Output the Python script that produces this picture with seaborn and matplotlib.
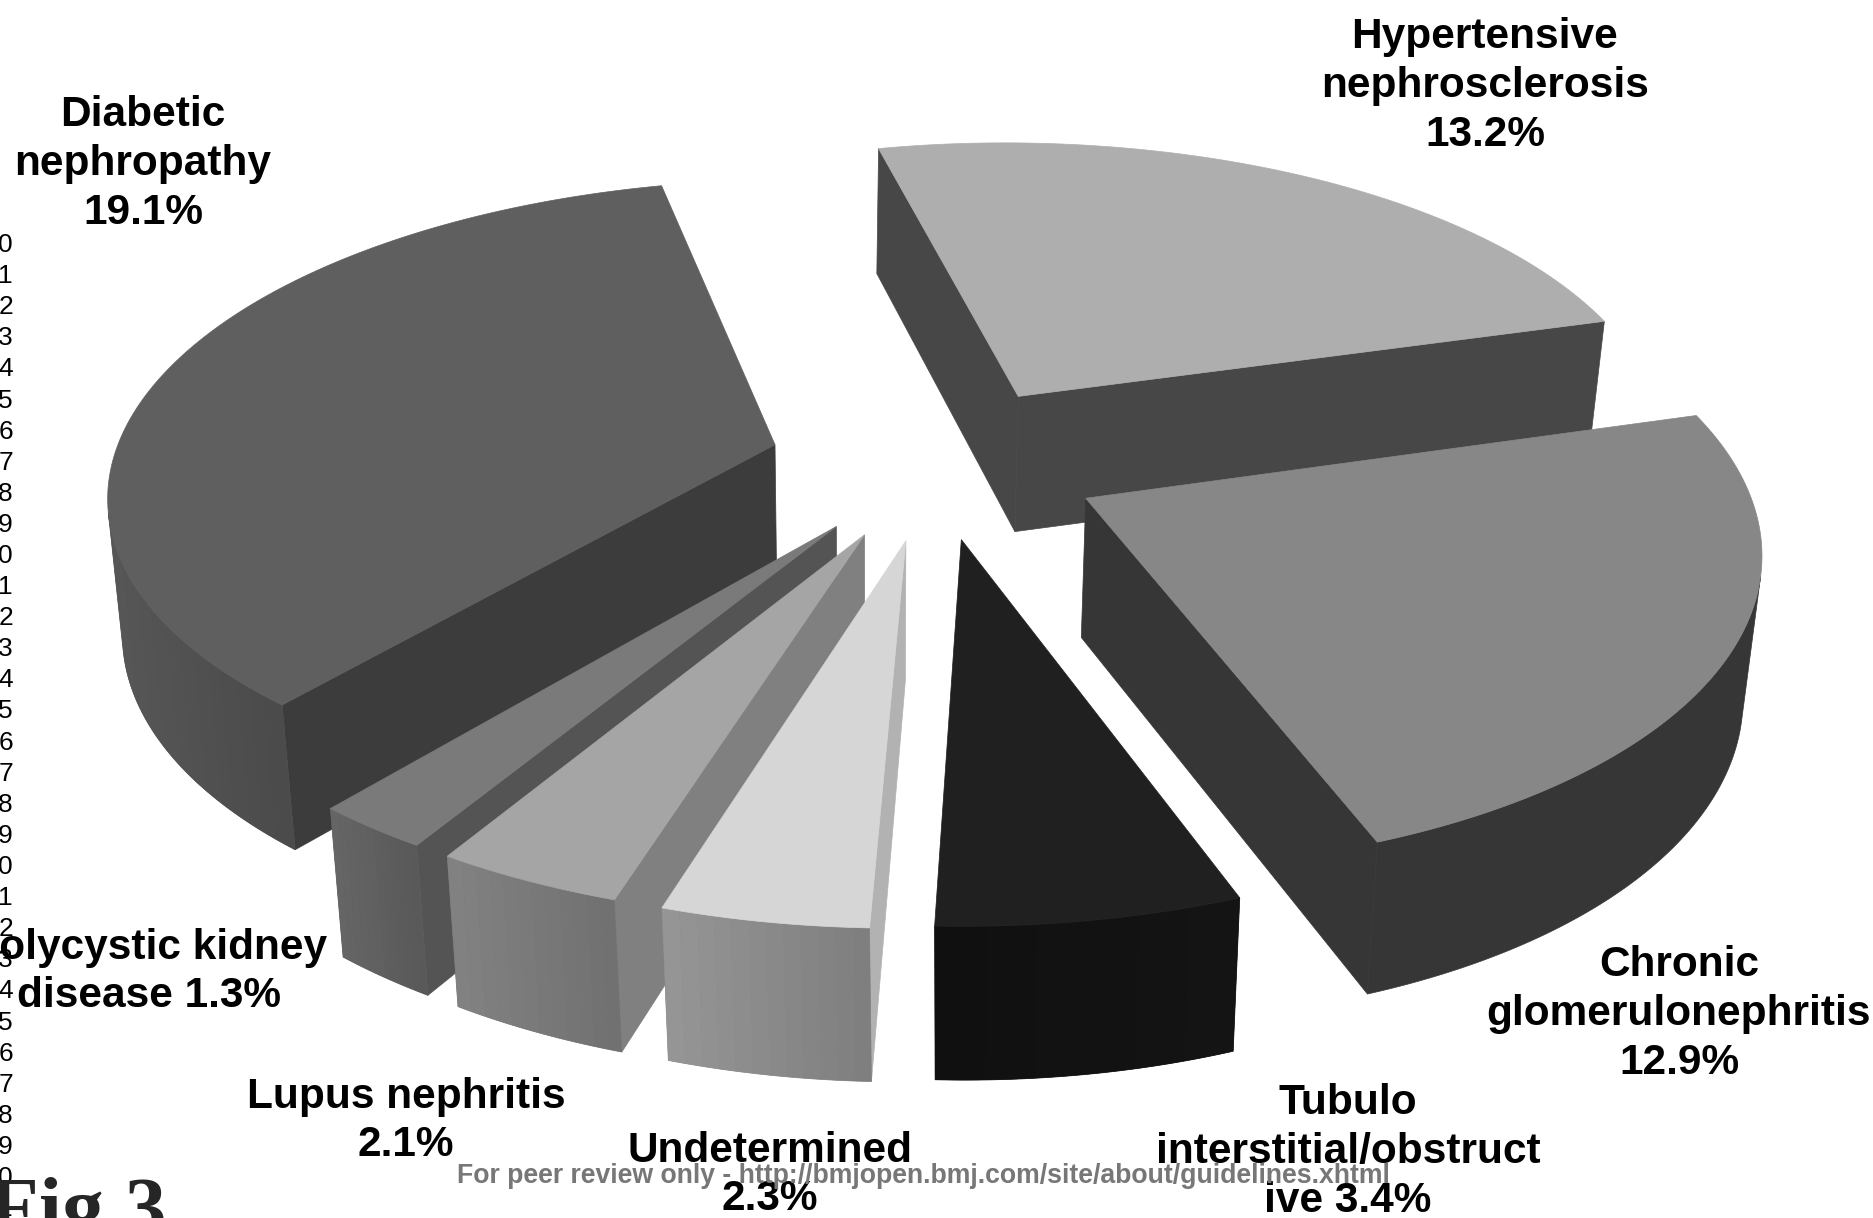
import numpy as np
import matplotlib
matplotlib.use("Agg")
import matplotlib.pyplot as plt
from matplotlib.colors import to_rgb
import seaborn as sns

# Causes of kidney disease, in drawing order around the pie (clockwise)
NAMES = ["Hypertensive\nnephrosclerosis\n", "Chronic\nglomerulonephritis\n", "Tubulo\ninterstitial/obstruct\nive ",
         "Undetermined\n", "Lupus nephritis\n", "Polycystic kidney\ndisease ", "Diabetic\nnephropathy\n"]
SHARES = [13.2, 12.9, 3.4, 2.3, 2.1, 1.3, 19.1]

# Gray shades of each slice: top surface, flat cut faces, curved wall (left and right end)
TOP_GRAY = ["#AEAEAE", "#878787", "#202020", "#D6D6D6", "#A5A5A5", "#7A7A7A", "#5F5F5F"]
FACE_GRAY = ["#474747", "#363636", "#101010", "#B2B2B2", "#808080", "#545454", "#3C3C3C"]
WALL_LEFT = ["#474747", "#363636", "#101010", "#969696", "#828282", "#666666", "#575757"]
WALL_RIGHT = ["#474747", "#363636", "#141414", "#7E7E7E", "#707070", "#585858", "#4A4A4A"]

FOOTER = "For peer review only - http://bmjopen.bmj.com/site/about/guidelines.xhtml"
CAPTION = "Fig 3"
LINE_COUNT = 32

# Label block centres in figure pixels
LABEL_CENTERS = [(1485, 86), (1679, 1014), (1348, 1152), (770, 1175), (406, 1121), (149, 972), (143, 164)]

# Perspective of the pie: maps the unit-radius plane of the top and bottom discs to pixels
H_TOP = np.array([[675.10829, -23.03493, 935.04395],
                  [-53.61637, -235.2598, 462.48924],
                  [0.03675, 0.1379, 1.0]])
H_BOTTOM = np.array([[662.2542, -23.04472, 933.57398],
                     [-49.29621, -228.93489, 599.98006],
                     [0.03719, 0.13617, 1.0]])
EXPLODE = [0.2577, 0.2527, 0.2453, 0.2497, 0.2502, 0.2492, 0.2516]
BANDS = 12

shares = np.array(SHARES)
sweep = 2 * np.pi * shares / shares.sum()
starts = np.concatenate([[0], np.cumsum(sweep)[:-1]])


def project(H, xy):
    q = np.column_stack([xy, np.ones(len(xy))]) @ H.T
    return q[:, :2] / q[:, 2:]


def mix(a, b, t):
    ca, cb = np.array(to_rgb(a)), np.array(to_rgb(b))
    return ca + (cb - ca) * t


def area(P):
    x, y = P[:, 0], P[:, 1]
    return np.sum(x * np.roll(y, -1) - np.roll(x, -1) * y)


sns.set_theme(style="white")
plt.rcParams['font.family'] = ['Liberation Sans', 'DejaVu Sans']
fig = plt.figure(figsize=(18.74, 12.18), dpi=100)
ax = fig.add_axes([0, 0, 1, 1])
ax.set_xlim(0, 1874)
ax.set_ylim(1218, 0)
ax.axis("off")

layer = [2]


def paint(P, color, lw=0.5):
    layer[0] += 1
    ax.fill(P[:, 0], P[:, 1], color=color, lw=lw, zorder=layer[0])


# Back slices first, so the nearer ones cover them
for i in [0, 6, 1, 5, 4, 3, 2]:
    theta = np.linspace(starts[i], starts[i] + sweep[i], 160)
    mid = starts[i] + sweep[i] / 2
    off = EXPLODE[i] * np.array([np.sin(mid), np.cos(mid)])
    rim = np.column_stack([np.sin(theta), np.cos(theta)]) + off
    top = project(H_TOP, rim)
    bot = project(H_BOTTOM, rim)
    apex_t = project(H_TOP, off[None, :])
    apex_b = project(H_BOTTOM, off[None, :])

    # Flat cut faces, only those turned towards the viewer
    for quad in ([apex_t[0], top[0], bot[0], apex_b[0]], [top[-1], apex_t[0], apex_b[0], bot[-1]]):
        P = np.array(quad)
        if area(P) < 0:
            paint(P, FACE_GRAY[i])

    # Curved wall with a stepped left-to-right shade
    seen = [j for j in range(len(top) - 1)
            if area(np.array([top[j], top[j + 1], bot[j + 1], bot[j]])) < 0]
    if seen:
        lo, hi = min(seen), max(seen) + 1
        paint(np.vstack([top[lo:hi + 1], bot[lo:hi + 1][::-1]]), mix(WALL_LEFT[i], WALL_RIGHT[i], 0.5))
        if WALL_LEFT[i] != WALL_RIGHT[i]:
            xs = (top[seen, 0] + top[[j + 1 for j in seen], 0]) / 2
            tt = (xs - xs.min()) / max(xs.max() - xs.min(), 1)
            band = np.minimum((tt * BANDS).astype(int), BANDS - 1)
            for b in np.unique(band):
                idx = [seen[n] for n in np.nonzero(band == b)[0]]
                l, h = min(idx), max(idx) + 1
                P = np.vstack([top[l:h + 1], bot[l:h + 1][::-1]])
                paint(P, mix(WALL_LEFT[i], WALL_RIGHT[i], (b + 0.5) / BANDS), lw=0)

    paint(np.vstack([apex_t, top]), TOP_GRAY[i])

for name, share, (cx, cy) in zip(NAMES, SHARES, LABEL_CENTERS):
    ax.text(cx, cy, f"{name}{share}%", ha="center", va="center", fontsize=30.5,
            fontweight="bold", linespacing=1.29, color="black", zorder=500)

# Manuscript line numbers down the left margin
for n in range(LINE_COUNT):
    ax.text(13, 245 + 31.1 * n, str(n % 10), ha="right", va="center", fontsize=19, color="black", zorder=400)

ax.text(-12, 1234, CAPTION, family="Liberation Serif", fontweight="bold", fontsize=60,
        ha="left", va="baseline", zorder=510)
ax.text(923, 1176, FOOTER, ha="center", va="center", fontsize=19.2, fontweight="bold",
        color="#777777", zorder=520)

fig.savefig("out.png", dpi=100)
